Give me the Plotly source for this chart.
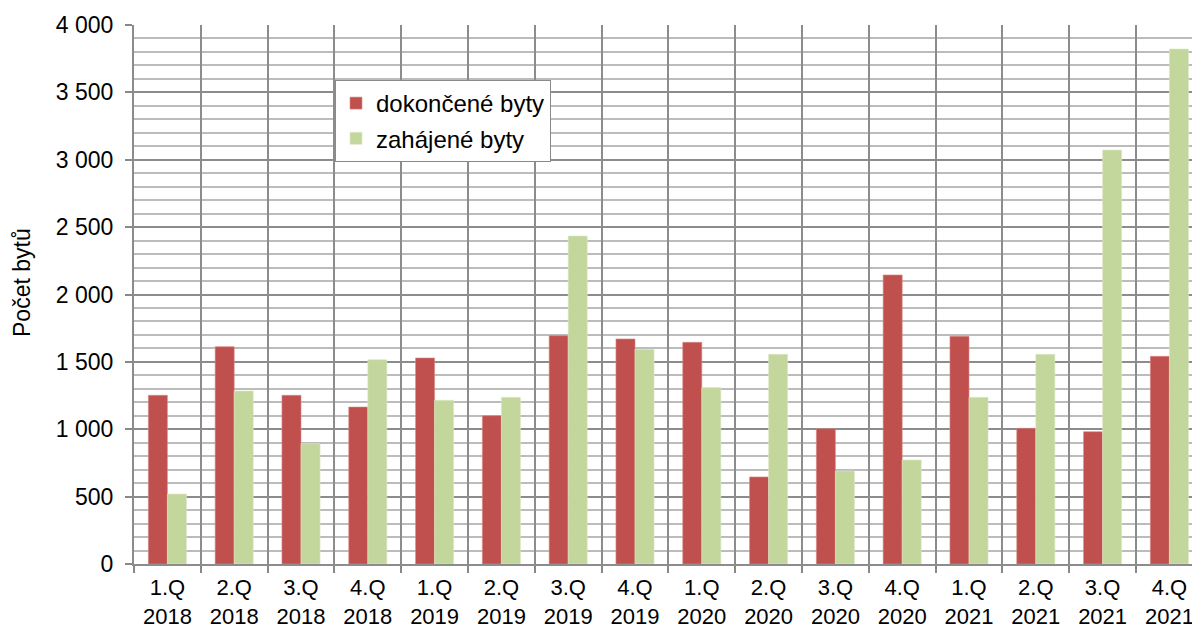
import plotly.graph_objects as go

categories = ["1.Q<br>2018", "2.Q<br>2018", "3.Q<br>2018", "4.Q<br>2018",
              "1.Q<br>2019", "2.Q<br>2019", "3.Q<br>2019", "4.Q<br>2019",
              "1.Q<br>2020", "2.Q<br>2020", "3.Q<br>2020", "4.Q<br>2020",
              "1.Q<br>2021", "2.Q<br>2021", "3.Q<br>2021", "4.Q<br>2021"]
dokoncene = [1252, 1613, 1252, 1165, 1529, 1101, 1694, 1670,
             1645, 646, 1004, 2145, 1690, 1007, 982, 1541]
zahajene = [519, 1284, 893, 1516, 1215, 1237, 2434, 1593,
            1309, 1556, 690, 772, 1237, 1556, 3072, 3822]
y_title = "Počet bytů"

FONT = "Liberation Sans, Arial, sans-serif"

fig = go.Figure()
fig.add_trace(go.Bar(x=categories, y=dokoncene, name="dokončené byty",
                     marker=dict(color="#c0504d", line=dict(color="#d98a88", width=0.6)),
                     legendgroup="a"))
fig.add_trace(go.Bar(x=categories, y=zahajene, name="zahájené byty",
                     marker=dict(color="#c3d69b", line=dict(color="#dde8c6", width=0.6)),
                     legendgroup="b"))

W, H = 1192, 628
ml, mt, mb = 134, 25, 64
cat_w = 66.8
pw, ph = W - ml, H - mt - mb
x_end = -0.5 + pw / cat_w

fig.add_annotation(text=y_title, textangle=-90, showarrow=False,
                   xref="paper", yref="paper",
                   x=-(ml - 22) / pw, y=1 - (283 - mt) / ph,
                   xanchor="center", yanchor="middle",
                   font=dict(family=FONT, size=23, color="#000000"))

fig.update_layout(
    width=W, height=H,
    margin=dict(l=ml, r=0, t=mt, b=mb),
    paper_bgcolor="white", plot_bgcolor="white",
    barmode="group", bargap=0.43, bargroupgap=0,
    separators=", ",
    font=dict(family=FONT, size=22, color="#000000"),
    showlegend=True,
    legend=dict(x=(335 - ml) / pw, y=1 - (80 - mt) / ph,
                xanchor="left", yanchor="top",
                bordercolor="#8a8a8a", borderwidth=1, bgcolor="white",
                font=dict(family=FONT, size=24),
                traceorder="grouped", tracegroupgap=1,
                itemwidth=30),
    xaxis=dict(type="category", range=[-0.5, x_end], automargin=False,
               tickson="boundaries", ticks="outside", ticklen=7,
               tickcolor="#888888", tickwidth=1.5,
               ticklabelstandoff=3,
               showgrid=True, gridcolor="#8c8c8c", gridwidth=1.5,
               showline=True, linecolor="#8c8c8c", linewidth=2,
               tickfont=dict(family=FONT, size=22),
               fixedrange=True),
    yaxis=dict(range=[0, 4000], dtick=500, tick0=0, tickformat=",d", automargin=False,
               ticks="outside", ticklen=7, tickcolor="#888888", tickwidth=1.5,
               ticklabelstandoff=7,
               showgrid=True, gridcolor="#8c8c8c", gridwidth=1.5,
               showline=True, linecolor="#8c8c8c", linewidth=2,
               zeroline=False,
               minor=dict(dtick=100, showgrid=True, gridcolor="#bcbcbc", gridwidth=1.5),
               tickfont=dict(family=FONT, size=23),
               fixedrange=True),
)

fig.write_html("out.html", config={"displayModeBar": False},
               post_script="document.body.style.margin='0';document.body.style.overflow='hidden';")
